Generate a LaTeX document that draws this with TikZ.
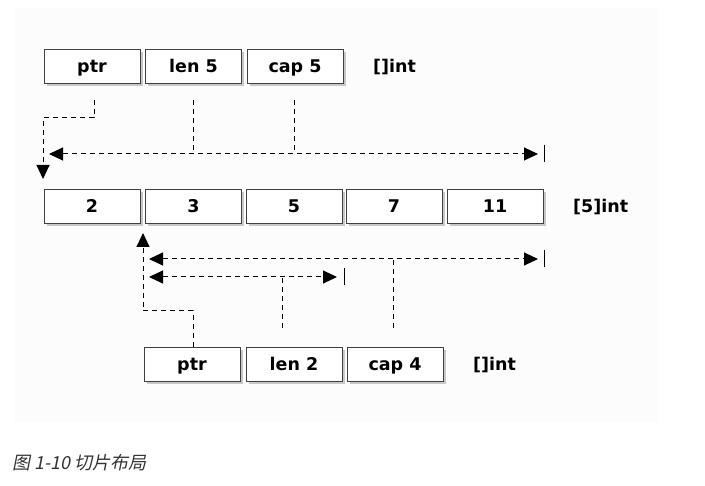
\documentclass[tikz,border=0pt]{standalone}
\usepackage{fontspec}
\setmainfont{DejaVu Sans}
\newfontfamily\cjk[FakeSlant=0.2]{Noto Sans CJK SC}
\usetikzlibrary{arrows.meta,shadows}
\definecolor{panel}{HTML}{FCFCFC}
\definecolor{captioncol}{HTML}{333333}
\tikzset{
  box/.style={draw=black!75, line width=1pt, fill=white, minimum width=96pt, minimum height=34pt,
    inner sep=0pt, text height=15pt, text depth=2.6pt, font=\fontsize{17.5}{20}\selectfont\bfseries,
    drop shadow={shadow xshift=2.5pt, shadow yshift=-2.5pt, fill=black!35, opacity=0.6}},
  tlabel/.style={anchor=west, inner sep=0pt, text height=15pt, text depth=2.6pt, font=\fontsize{17.5}{20}\selectfont\bfseries},
  conn/.style={draw=black, line width=1pt, dash pattern=on 5pt off 4pt},
  tipa/.style={-{Triangle[length=14pt,width=13pt]}},
  tipb/.style={{Triangle[length=14pt,width=13pt]}-{Triangle[length=14pt,width=13pt]}},
  bar/.style={draw=black, line width=1pt}
}
\begin{document}
\begin{tikzpicture}[x=1pt,y=-1pt]
\useasboundingbox (0,0) rectangle (705,486);
\fill[panel] (15,8) rectangle (658,422);

% top slice
\node[box] (tptr) at (92,66.5) {ptr};
\node[box] (tlen) at (193.5,66.5) {len 5};
\node[box] (tcap) at (295,66.5) {cap 5};
\node[tlabel] (tlab) at (373,66.5) {[]int};

% array
\node[box] (a0) at (92,206.5) {2};
\node[box] (a1) at (193.5,206.5) {3};
\node[box] (a2) at (294,206.5) {5};
\node[box] (a3) at (394,206.5) {7};
\node[box] (a4) at (495,206.5) {11};
\node[tlabel] (alab) at (573,206.5) {[5]int};

% bottom slice
\node[box] (bptr) at (192,364.5) {ptr};
\node[box] (blen) at (294,364.5) {len 2};
\node[box] (bcap) at (395,364.5) {cap 4};
\node[tlabel] (blab) at (473,364.5) {[]int};

% coordinates
\coordinate (tp0) at (94,100);
\coordinate (tp1) at (94,118);
\coordinate (tp2) at (43,118);
\coordinate (tp3) at (43,179);
\coordinate (tl0) at (193,100);
\coordinate (tl1) at (193,154);
\coordinate (tc0) at (294,100);
\coordinate (tc1) at (294,154);
\coordinate (th0) at (49,154);
\coordinate (th1) at (538,154);
\coordinate (tb0) at (544,145);
\coordinate (tb1) at (544,162);

\coordinate (bp0) at (193,347);
\coordinate (bp1) at (193,311);
\coordinate (bp2) at (143,311);
\coordinate (bp3) at (143,233);
\coordinate (uh0) at (149,259);
\coordinate (uh1) at (538,259);
\coordinate (ub0) at (544,250);
\coordinate (ub1) at (544,267);
\coordinate (bc0) at (393,328);
\coordinate (bc1) at (393,259);
\coordinate (lh0) at (149,277);
\coordinate (lh1) at (337,277);
\coordinate (lb0) at (344,268);
\coordinate (lb1) at (344,285);
\coordinate (bl0) at (282,328);
\coordinate (bl1) at (282,277);

% top connectors
\draw[conn,tipa] (tp0) -- (tp1) -- (tp2) -- (tp3);
\draw[conn] (tl0) -- (tl1);
\draw[conn] (tc0) -- (tc1);
\draw[conn,tipb] (th0) -- (th1);
\draw[bar] (tb0) -- (tb1);

% bottom connectors
\draw[conn,tipa] (bp0) -- (bp1) -- (bp2) -- (bp3);
\draw[conn,tipb] (uh0) -- (uh1);
\draw[bar] (ub0) -- (ub1);
\draw[conn] (bc0) -- (bc1);
\draw[conn,tipb] (lh0) -- (lh1);
\draw[bar] (lb0) -- (lb1);
\draw[conn] (bl0) -- (bl1);

% caption
\node[anchor=west, inner sep=0pt, text=captioncol, font=\cjk\fontsize{18}{20}\selectfont] (cap) at (12,463) {图 1-10 切片布局};
\end{tikzpicture}
\end{document}
